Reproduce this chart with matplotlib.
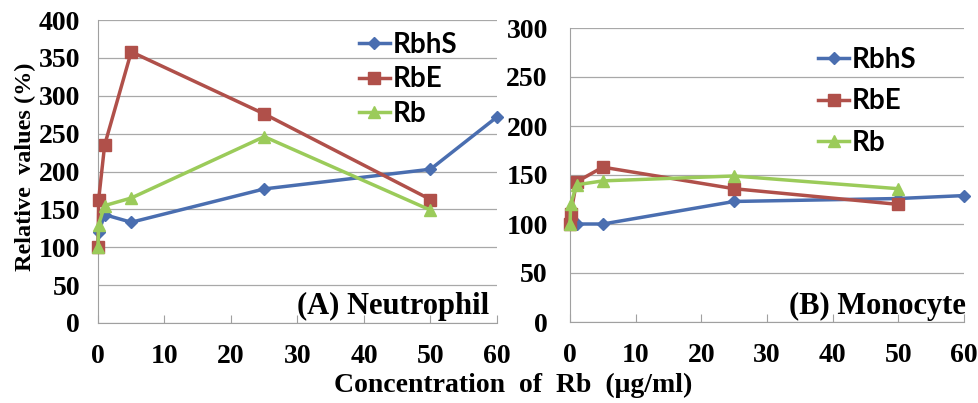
import matplotlib.pyplot as plt

# concentrations (ug/ml)
conc = [0, 0.1, 1, 5, 25, 50]
conc_hs = [0, 0.1, 1, 5, 25, 50, 60]

# (A) Neutrophil
neu_rbhs = [100, 120, 143, 133, 177, 203, 272]
neu_rbe = [100, 163, 235, 358, 276, 163]
neu_rb = [100, 130, 155, 165, 246, 149]

# (B) Monocyte
mon_rbhs = [100, 100, 100, 100, 123, 126, 129]
mon_rbe = [100, 110, 143, 158, 136, 120]
mon_rb = [100, 120, 140, 144, 149, 136]

c_blue = '#4A6EB0'
c_red = '#B0504A'
c_green = '#9BCB5A'
serif = 'Liberation Serif'
sans = 'Lato'

fig = plt.figure(figsize=(9.79, 4.03), dpi=100)
W, H = 979, 403
ax1 = fig.add_axes([98 / W, 1 - 323 / H, (497 - 98) / W, (323 - 20) / H])
ax2 = fig.add_axes([570 / W, 1 - 322 / H, (964 - 570) / W, (322 - 28) / H])


def draw(ax, rbhs, rbe, rb, ymax, label, lab_x, leg_anchor, spacing, ypad):
    ax.plot(conc_hs, rbhs, color=c_blue, lw=2.5, marker='D', ms=6.5, label='RbhS', clip_on=False, zorder=3)
    ax.plot(conc, rbe, color=c_red, lw=2.5, marker='s', ms=9, label='RbE', clip_on=False, zorder=3)
    ax.plot(conc, rb, color=c_green, lw=2.5, marker='^', ms=8, label='Rb', clip_on=False, zorder=3)
    ax.set_xlim(0, 60)
    ax.set_ylim(0, ymax)
    ax.set_xticks(range(0, 61, 10))
    ax.set_yticks(range(0, ymax + 1, 50))
    ax.grid(axis='y', color='#a8a8a8', lw=0.9)
    for s in ['top', 'right']:
        ax.spines[s].set_visible(False)
    for s in ['left', 'bottom']:
        ax.spines[s].set_color('#a0a0a0')
    ax.tick_params(axis='x', direction='in', length=6, color='#a0a0a0', pad=15)
    ax.tick_params(axis='y', length=0, pad=ypad)
    for t in ax.get_xticklabels() + ax.get_yticklabels():
        t.set_fontfamily(serif)
        t.set_fontweight('bold')
        t.set_fontsize(20)
    ax.text(lab_x, 0.005, label, transform=ax.transAxes, ha='right', va='bottom',
            fontfamily=serif, fontweight='bold', fontsize=22)
    ax.legend(loc='upper left', bbox_to_anchor=leg_anchor, frameon=False,
              handlelength=1.1, handletextpad=0.1, labelspacing=spacing,
              prop={'family': sans, 'weight': 'bold', 'size': 20})


draw(ax1, neu_rbhs, neu_rbe, neu_rb, 400, '(A) Neutrophil', 0.98, (0.592, 1.043), 0.3, 13)
draw(ax2, mon_rbhs, mon_rbe, mon_rb, 300, '(B) Monocyte', 1.005, (0.567, 1.02), 0.55, 16)

fig.text(25 / W, 1 - 167 / H, 'Relative  values (%)', rotation=90, ha='center', va='center',
         fontfamily=serif, fontweight='bold', fontsize=17.5)
fig.text(513 / W, 1 - 385 / H, 'Concentration  of  Rb  (\u03bcg/ml)', ha='center', va='center',
         fontfamily=serif, fontweight='bold', fontsize=20)

fig.savefig('out.png', dpi=100)
